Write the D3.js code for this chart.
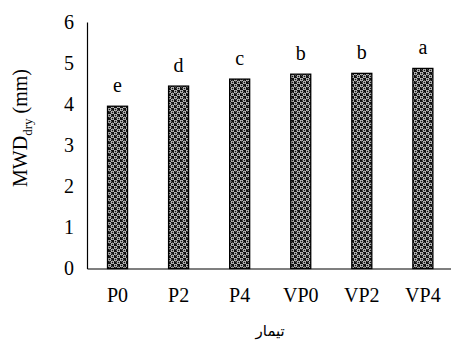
<!DOCTYPE html>
<html>
<head>
<meta charset="utf-8">
<script src="https://cdn.jsdelivr.net/npm/d3@7"></script>
<style>
  html, body { margin: 0; padding: 0; background: #fff; }
  svg { display: block; }
  text { font-family: "Liberation Serif", "Times New Roman", serif; font-weight: normal; fill: #000; }
</style>
</head>
<body>
<svg id="chart" width="451" height="352"></svg>
<script>
const treatments = ["P0", "P2", "P4", "VP0", "VP2", "VP4"];
const mwdDry = [3.95, 4.44, 4.61, 4.73, 4.75, 4.87];
const letters = ["e", "d", "c", "b", "b", "a"];
const yTicks = [0, 1, 2, 3, 4, 5, 6];

const W = 451, H = 352;
const M = {t: 22, l: 87, b: 268.5, r: 453.4};
const FS = "20px";

const svg = d3.select("#chart");

// bar fill pattern: black with white rings
const defs = svg.append("defs");
const pat = defs.append("pattern")
  .attr("id", "dots")
  .attr("patternUnits", "userSpaceOnUse")
  .attr("width", 6).attr("height", 6);
pat.append("rect").attr("width", 6).attr("height", 6).attr("fill", "#111");
[[1.5, 1.5], [4.5, 4.5]].forEach(([cx, cy]) => {
  pat.append("circle").attr("cx", cx).attr("cy", cy).attr("r", 1.3)
    .attr("fill", "none").attr("stroke", "#fff").attr("stroke-width", 1);
});

const x = d3.scaleBand()
  .domain(treatments)
  .range([M.l, M.r])
  .paddingInner(0.672)
  .paddingOuter(0.336);

const y = d3.scaleLinear()
  .domain([0, 6])
  .range([M.b, M.t]);

// y axis: line + labels, no tick marks
const yAxis = svg.append("g")
  .attr("transform", `translate(${M.l},0)`)
  .call(d3.axisLeft(y).tickValues(yTicks).tickFormat(d3.format("d")).tickSize(0).tickPadding(13));
yAxis.select(".domain").attr("stroke", "#000").attr("stroke-width", 1.2);
yAxis.selectAll("text")
  .style("font-family", '"Liberation Serif", serif')
  .style("font-size", FS)
  .attr("fill", "#000");

// bars
const data = treatments.map((t, i) => ({t, v: mwdDry[i], l: letters[i]}));
svg.append("g").selectAll("rect")
  .data(data)
  .join("rect")
    .attr("x", d => x(d.t))
    .attr("y", d => y(d.v))
    .attr("width", x.bandwidth())
    .attr("height", d => y(0) - y(d.v))
    .attr("fill", "url(#dots)")
    .attr("stroke", "#000")
    .attr("stroke-width", 1.3);

// significance letters
svg.append("g").selectAll("text")
  .data(data)
  .join("text")
    .attr("x", d => x(d.t) + x.bandwidth() / 2)
    .attr("y", d => y(d.v) - 14)
    .attr("text-anchor", "middle")
    .style("font-size", FS)
    .text(d => d.l);

// x axis: line + labels, no tick marks
const xAxis = svg.append("g")
  .attr("transform", `translate(0,${M.b})`)
  .call(d3.axisBottom(x).tickSize(0).tickPadding(19));
xAxis.select(".domain").attr("stroke", "#000").attr("stroke-width", 1.2);
xAxis.selectAll("text")
  .style("font-family", '"Liberation Serif", serif')
  .style("font-size", FS)
  .attr("fill", "#000");

// y title
const yt = svg.append("text")
  .attr("transform", "translate(27,128) rotate(-90)")
  .attr("text-anchor", "middle")
  .style("font-size", FS);
yt.append("tspan").text("MWD");
yt.append("tspan").attr("dy", 5).style("font-size", "13px").text("dry");
yt.append("tspan").attr("dy", -5).text(" (mm)");

// x title
svg.append("text")
  .attr("x", (M.l + M.r) / 2)
  .attr("y", 336)
  .attr("text-anchor", "middle")
  .style("font-family", '"DejaVu Sans", sans-serif')
  .style("font-size", "15px")
  .text("تیمار");
</script>
</body>
</html>
